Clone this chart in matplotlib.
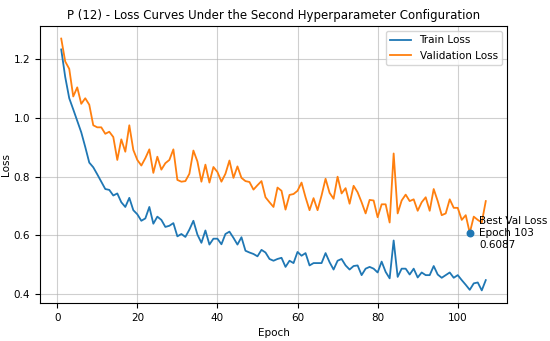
import matplotlib
matplotlib.use("Agg")
import matplotlib.pyplot as plt
import numpy as np

# Loss values, epochs 1..107
train_loss = [
    1.233, 1.139, 1.067, 1.029, 0.990, 0.951, 0.901, 0.848, 0.832, 0.808,
    0.783, 0.758, 0.755, 0.736, 0.743, 0.713, 0.697, 0.728, 0.686, 0.672,
    0.650, 0.658, 0.697, 0.640, 0.664, 0.653, 0.629, 0.633, 0.642, 0.597,
    0.605, 0.595, 0.620, 0.650, 0.603, 0.575, 0.617, 0.569, 0.589, 0.589,
    0.570, 0.605, 0.613, 0.592, 0.569, 0.594, 0.548, 0.542, 0.537, 0.529,
    0.551, 0.542, 0.520, 0.514, 0.520, 0.524, 0.493, 0.514, 0.506, 0.544,
    0.531, 0.540, 0.498, 0.506, 0.506, 0.506, 0.540, 0.509, 0.484, 0.514,
    0.520, 0.498, 0.484, 0.496, 0.498, 0.465, 0.487, 0.493, 0.487, 0.474,
    0.511, 0.476, 0.454, 0.583, 0.459, 0.487, 0.487, 0.467, 0.487, 0.457,
    0.474, 0.465, 0.465, 0.496, 0.467, 0.456, 0.465, 0.474, 0.456, 0.465,
    0.448, 0.432, 0.415, 0.437, 0.440, 0.413, 0.448,
]
val_loss = [
    1.270, 1.192, 1.167, 1.073, 1.104, 1.048, 1.067, 1.045, 0.975, 0.968,
    0.968, 0.946, 0.953, 0.935, 0.857, 0.927, 0.885, 0.975, 0.891, 0.857,
    0.838, 0.863, 0.893, 0.813, 0.868, 0.824, 0.846, 0.857, 0.893, 0.789,
    0.783, 0.785, 0.810, 0.889, 0.852, 0.783, 0.841, 0.780, 0.833, 0.816,
    0.783, 0.810, 0.855, 0.796, 0.835, 0.796, 0.785, 0.782, 0.756, 0.771,
    0.785, 0.730, 0.713, 0.697, 0.763, 0.752, 0.688, 0.738, 0.741, 0.752,
    0.780, 0.730, 0.686, 0.727, 0.686, 0.736, 0.793, 0.745, 0.725, 0.800,
    0.743, 0.761, 0.708, 0.769, 0.747, 0.713, 0.675, 0.721, 0.719, 0.662,
    0.706, 0.706, 0.644, 0.879, 0.675, 0.719, 0.739, 0.717, 0.723, 0.684,
    0.713, 0.730, 0.684, 0.758, 0.717, 0.669, 0.675, 0.723, 0.694, 0.694,
    0.653, 0.669, 0.6087, 0.664, 0.653, 0.644, 0.717,
]
epochs = np.arange(1, len(train_loss) + 1)

best_idx = int(np.argmin(val_loss))
best_epoch = epochs[best_idx]
best_val = val_loss[best_idx]

fig = plt.figure(figsize=(5.5, 3.41), dpi=100)
ax = fig.add_axes([40 / 550, 1 - 303 / 341, 467 / 550, 277 / 341])

ax.plot(epochs, train_loss, color="#1f77b4", linewidth=1.3, label="Train Loss")
ax.plot(epochs, val_loss, color="#ff7f0e", linewidth=1.3, label="Validation Loss")

# Mark the best validation epoch
ax.scatter([best_epoch], [best_val], color="#1f77b4", s=22, zorder=3)
ax.annotate(
    f"Best Val Loss\nEpoch {best_epoch}\n{best_val:.4f}",
    xy=(best_epoch, best_val),
    xytext=(7, 0),
    textcoords="offset points",
    va="center",
    ha="left",
    fontsize=7.5,
    annotation_clip=False,
)

ax.set_title("P (12) - Loss Curves Under the Second Hyperparameter Configuration",
             fontsize=8.5, pad=5)
ax.set_xlabel("Epoch", fontsize=7.5)
ax.set_ylabel("Loss", fontsize=7.5, labelpad=2)
ax.tick_params(labelsize=7.5)
ax.grid(True, alpha=0.6)
ax.legend(loc="upper right", fontsize=7.5)

fig.savefig("out.png", dpi=100)
